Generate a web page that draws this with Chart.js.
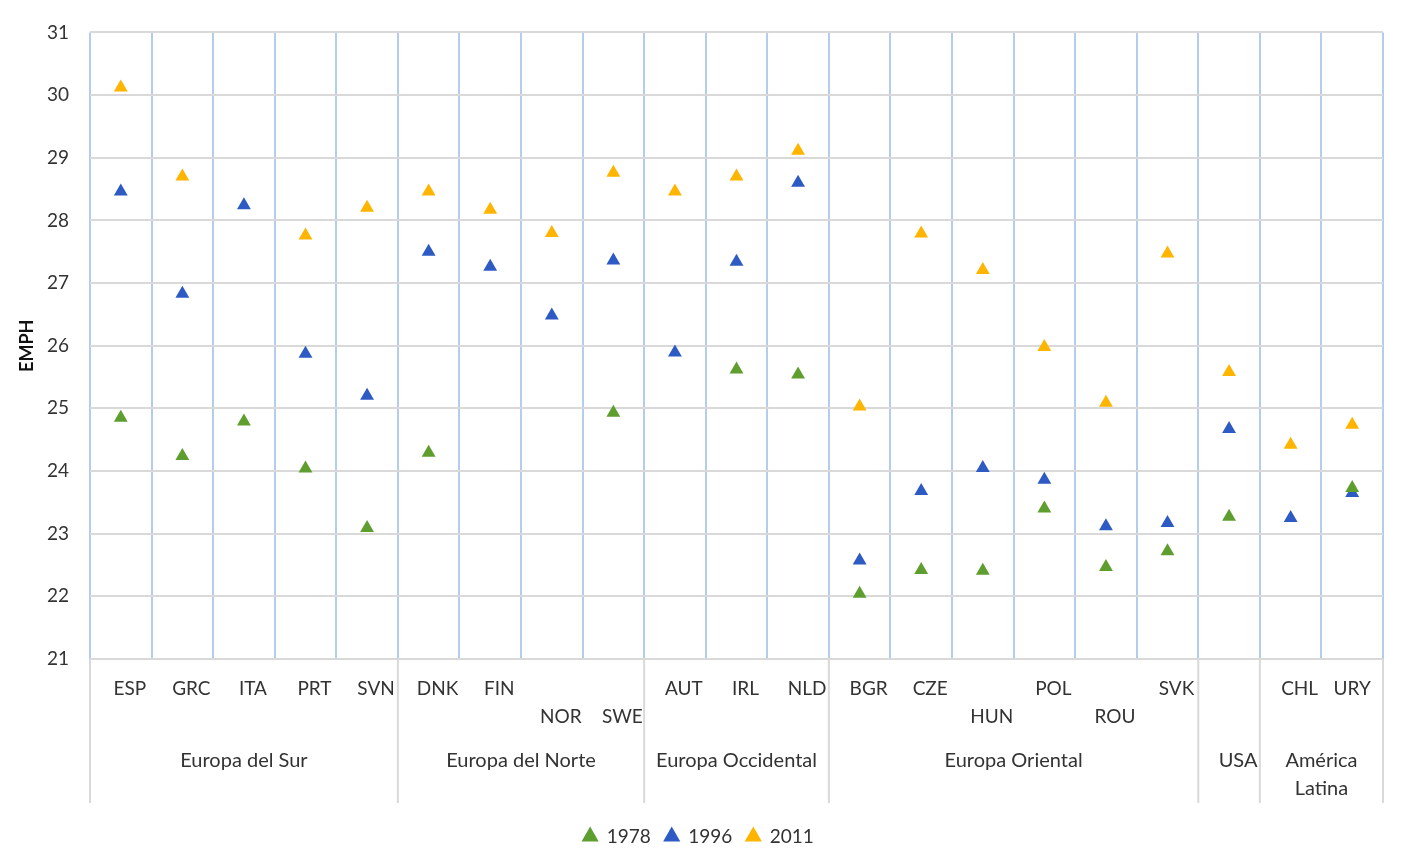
<!DOCTYPE html>
<html>
<head>
<meta charset="utf-8">
<script src="https://cdn.jsdelivr.net/npm/chart.js@4/dist/chart.umd.min.js"></script>
<style>
html,body{margin:0;padding:0;background:#fff;}
#wrap{width:1406px;height:864px;position:relative;}
</style>
</head>
<body>
<div id="wrap"><canvas id="c" width="1406" height="864"></canvas></div>
<script>
const categories = ['ESP','GRC','ITA','PRT','SVN','DNK','FIN','NOR','SWE','AUT','IRL','NLD','BGR','CZE','HUN','POL','ROU','SVK','USA','CHL','URY'];
const countryLabels = ['ESP','GRC','ITA','PRT','SVN','DNK','FIN','NOR','SWE','AUT','IRL','NLD','BGR','CZE','HUN','POL','ROU','SVK','','CHL','URY'];
const groupNames = ['Europa del Sur','Europa del Norte','Europa Occidental','Europa Oriental','USA','América Latina'];
const groupSizes = [5,4,3,6,1,2];
const yTicks = [21,22,23,24,25,26,27,28,29,30,31];

const v1978 = [24.85,24.24,24.79,24.04,23.09,24.29,null,null,24.93,null,25.62,25.54,22.04,22.42,22.41,23.40,22.47,22.72,23.27,null,23.73];
const v1996 = [28.46,26.83,28.24,25.87,25.20,27.50,27.26,26.48,27.36,25.89,27.34,28.60,22.57,23.68,24.05,23.86,23.12,23.17,24.67,23.25,23.65];
const v2011 = [30.12,28.70,null,27.76,28.20,28.46,28.17,27.80,28.76,28.46,28.70,29.11,25.03,27.79,27.21,25.98,25.09,27.47,25.58,24.42,24.74];

const FONT = 'Lato, "Open Sans", sans-serif';
const TXT = '#333333';

const labelsPlugin = {
  id: 'multiLevel',
  afterDraw(chart) {
    const ctx = chart.ctx;
    const xs = chart.scales.x;
    const area = chart.chartArea;
    const step = xs.getPixelForValue(1) - xs.getPixelForValue(0);
    const staggered = new Set(['NOR','SWE','HUN','ROU']);
    ctx.save();
    ctx.font = '19px ' + FONT;
    ctx.fillStyle = TXT;
    ctx.textAlign = 'center';
    ctx.textBaseline = 'middle';
    countryLabels.forEach((lab, i) => {
      if (!lab) return;
      const px = xs.getPixelForValue(i) + (i === countryLabels.length - 1 ? 0 : 9);
      const py = area.bottom + (staggered.has(lab) ? 58 : 30);
      ctx.fillText(lab, px, py);
    });
    ctx.strokeStyle = '#d9d9d9';
    ctx.lineWidth = 2;
    let start = 0;
    const bounds = [xs.getPixelForValue(0) - step / 2];
    groupSizes.forEach(n => { start += n; bounds.push(xs.getPixelForValue(start - 1) + step / 2); });
    bounds.forEach(b => {
      ctx.beginPath();
      ctx.moveTo(b, area.bottom);
      ctx.lineTo(b, area.bottom + 144);
      ctx.stroke();
    });
    ctx.font = '20px ' + FONT;
    groupNames.forEach((g, k) => {
      const cx = (bounds[k] + bounds[k + 1]) / 2 + (g === 'USA' ? 9 : 0);
      const words = g === 'América Latina' ? ['América', 'Latina'] : [g];
      words.forEach((w, j) => ctx.fillText(w, cx, area.bottom + 102 + j * 28));
    });
    ctx.restore();
  }
};

const tri = { pointStyle: 'triangle', pointRadius: 8, pointHoverRadius: 8, showLine: false, borderWidth: 0 };

new Chart(document.getElementById('c'), {
  type: 'line',
  data: {
    labels: categories,
    datasets: [
      Object.assign({ label: '1978', data: v1978, backgroundColor: '#5e9e2f', borderColor: '#5e9e2f' }, tri),
      Object.assign({ label: '1996', data: v1996, backgroundColor: '#2e5ac3', borderColor: '#2e5ac3' }, tri),
      Object.assign({ label: '2011', data: v2011, backgroundColor: '#ffb400', borderColor: '#ffb400' }, tri)
    ]
  },
  options: {
    responsive: false,
    animation: false,
    devicePixelRatio: 1,
    layout: { padding: { left: 14, right: 23, top: 29, bottom: 8 } },
    plugins: {
      tooltip: { enabled: false },
      legend: {
        position: 'bottom',
        labels: {
          usePointStyle: true,
          pointStyle: 'triangle',
          boxWidth: 14,
          boxHeight: 14,
          padding: 14,
          color: TXT,
          font: { size: 19, family: FONT }
        }
      }
    },
    scales: {
      x: {
        type: 'category',
        offset: true,
        ticks: { display: false },
        grid: { offset: true, color: '#b4cdec', lineWidth: 2, drawTicks: false },
        border: { display: false },
        afterFit(s) { s.height = 154; }
      },
      y: {
        min: 21,
        max: 31,
        afterBuildTicks(s) { s.ticks = yTicks.map(v => ({ value: v })); },
        ticks: { color: TXT, font: { size: 19, family: FONT }, padding: 21 },
        grid: { color: '#d9d9d9', lineWidth: 2, drawTicks: false },
        border: { display: false },
        title: { display: true, text: 'EMPH', color: '#111', font: { size: 18, weight: 'bold', family: FONT }, padding: 2 },
        afterFit(s) { s.width = 76; }
      }
    }
  },
  plugins: [labelsPlugin]
});
</script>
</body>
</html>
